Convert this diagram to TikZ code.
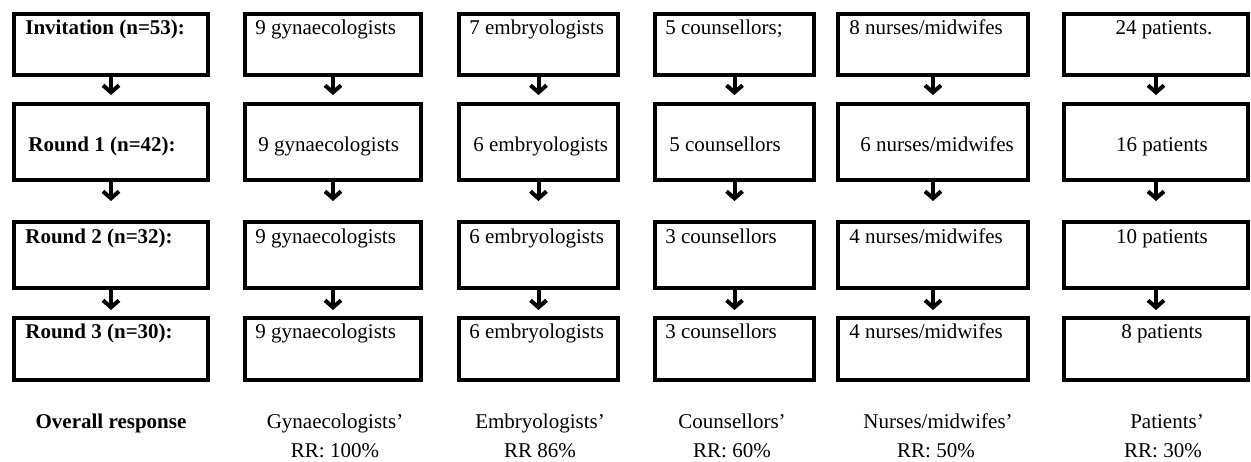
\documentclass[tikz,border=0pt]{standalone}
\usepackage{fontspec}
\setmainfont{Liberation Serif}
\usetikzlibrary{arrows.meta}
\newcommand\myfs{\fontsize{10.5}{12}\selectfont}
\begin{document}
\begin{tikzpicture}[x=0.5pt,y=-0.5pt,
  box/.style={draw, line width=2pt, rectangle, outer sep=0pt, inner sep=0pt},
  txt/.style={anchor=base west, inner sep=0pt, font=\myfs},
  btxt/.style={anchor=base west, inner sep=0pt, font=\myfs\bfseries},
  ctxt/.style={anchor=base, inner sep=0pt, font=\myfs},
  arr/.style={line width=2pt, -{Straight Barb[length=3.5pt,width=8pt,line width=2pt]}}]
\useasboundingbox[fill=white] (0,0) rectangle (1251,461);
% boxes
\foreach \c/\cx/\w in {0/111/194,1/333/176,2/538.5/159,3/734.5/159,4/933/190,5/1156/184}{
  \foreach \r/\ry/\h in {0/44.5/61,1/142/76,2/255/66,3/349/62}{
    \node[box, minimum width=\w*0.5pt, minimum height=\h*0.5pt] (b\c\r) at (\cx,\ry) {};
  }
}
% arrows
\foreach \c in {0,...,5}{
  \draw[arr, shorten >=4.5pt] (b\c0.south) -- (b\c1.north);
  \draw[arr, shorten >=10.5pt] (b\c1.south) -- (b\c2.north);
  \draw[arr, shorten >=4pt] (b\c2.south) -- (b\c3.north);
}
% row 0
\node[btxt] (t00) at (25,34) {Invitation (n=53):};
\node[txt] (t10) at (255,34) {9 gynaecologists};
\node[txt] (t20) at (469,34) {7 embryologists};
\node[txt] (t30) at (665,34) {5 counsellors;};
\node[txt] (t40) at (849,34) {8 nurses/midwifes};
\node[ctxt] (t50) at (1164,34) {24 patients.};
% row 1
\node[btxt] (t01) at (28,151) {Round 1 (n=42):};
\node[txt] (t11) at (258,151) {9 gynaecologists};
\node[txt] (t21) at (473,151) {6 embryologists};
\node[txt] (t31) at (669,151) {5 counsellors};
\node[txt] (t41) at (860,151) {6 nurses/midwifes};
\node[ctxt] (t51) at (1162,151) {16 patients};
% row 2
\node[btxt] (t02) at (25,243) {Round 2 (n=32):};
\node[txt] (t12) at (255,243) {9 gynaecologists};
\node[txt] (t22) at (469,243) {6 embryologists};
\node[txt] (t32) at (665,243) {3 counsellors};
\node[txt] (t42) at (849,243) {4 nurses/midwifes};
\node[ctxt] (t52) at (1162,243) {10 patients};
% row 3
\node[btxt] (t03) at (25,338) {Round 3 (n=30):};
\node[txt] (t13) at (255,338) {9 gynaecologists};
\node[txt] (t23) at (469,338) {6 embryologists};
\node[txt] (t33) at (665,338) {3 counsellors};
\node[txt] (t43) at (849,338) {4 nurses/midwifes};
\node[ctxt] (t53) at (1162,338) {8 patients};
% footer
\node[ctxt, font=\myfs\bfseries] (f0) at (111,428) {Overall response};
\node[ctxt] (f1a) at (335,428) {Gynaecologists’};
\node[ctxt] (f1b) at (335,457) {RR: 100\%};
\node[ctxt] (f2a) at (540,428) {Embryologists’};
\node[ctxt] (f2b) at (540,457) {RR 86\%};
\node[ctxt] (f3a) at (732,428) {Counsellors’};
\node[ctxt] (f3b) at (732,457) {RR: 60\%};
\node[ctxt] (f4a) at (938,428) {Nurses/midwifes’};
\node[ctxt] (f4b) at (936,457) {RR: 50\%};
\node[ctxt] (f5a) at (1167,428) {Patients’};
\node[ctxt] (f5b) at (1163,457) {RR: 30\%};
\end{tikzpicture}
\end{document}
